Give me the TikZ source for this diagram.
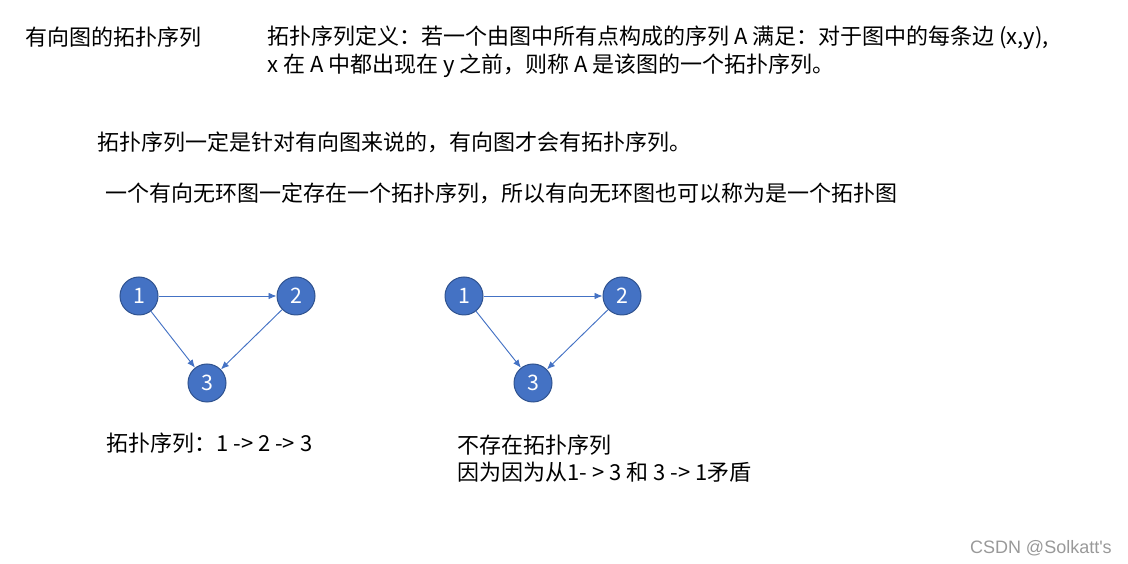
\documentclass[tikz,border=0pt]{standalone}
\usepackage{fontspec}
\setmainfont{Noto Sans CJK SC}
\newfontfamily\marksans{Liberation Sans}
\usepackage{tikz}
\usetikzlibrary{arrows.meta}
\definecolor{nodeblue}{HTML}{4472C4}
\definecolor{rimblue}{HTML}{2F528F}

\begin{document}
\begin{tikzpicture}[x=0.75pt,y=0.75pt,
  vertex/.style={circle,fill=nodeblue,draw=rimblue,line width=0.75pt,minimum size=28.5pt,inner sep=0pt,text=white,font=\fontsize{16}{16}\selectfont},
  edge/.style={draw=nodeblue,line width=0.7pt,-{Latex[length=6pt,width=5pt]}},
  txt/.style={anchor=west,inner sep=0pt,font=\fontsize{16.5}{27}\selectfont}]
\useasboundingbox (0,0) rectangle (1128,564);
% texts
\node[txt] (title) at (25,527) {有向图的拓扑序列};
\node[txt] (def1) at (267,526) {拓扑序列定义：若一个由图中所有点构成的序列 A 满足：对于图中的每条边 (x,y),};
\node[txt] (def2) at (267,498) {x 在 A 中都出现在 y 之前，则称 A 是该图的一个拓扑序列。};
\node[txt] (note1) at (97,422) {拓扑序列一定是针对有向图来说的，有向图才会有拓扑序列。};
\node[txt] (note2) at (105,371) {一个有向无环图一定存在一个拓扑序列，所以有向无环图也可以称为是一个拓扑图};
% first graph
\node[vertex] (a1) at (139,268) {1};
\node[vertex] (a2) at (296,268) {2};
\node[vertex] (a3) at (207,181) {3};
\draw[edge] (a1) -- (a2);
\draw[edge] (a1) -- (a3);
\draw[edge] (a2) -- (a3);
\node[txt] (seqa) at (106,121) {拓扑序列：1 -> 2 -> 3};
% second graph
\node[vertex] (b1) at (464,268) {1};
\node[vertex] (b2) at (622,268) {2};
\node[vertex] (b3) at (533,181) {3};
\draw[edge] (b1) -- (b2);
\draw[edge] (b1) -- (b3);
\draw[edge] (b2) -- (b3);
\node[txt] (seqb1) at (457,119) {不存在拓扑序列};
\node[txt] (seqb2) at (457,92) {因为因为从1- > 3 和 3 -> 1矛盾};
% watermark
\node[anchor=east,inner sep=0pt,text=black!40,font=\marksans\fontsize{13.5}{14}\selectfont] (mark) at (1112,16) {CSDN @Solkatt\symbol{39}s};
\end{tikzpicture}
\end{document}
